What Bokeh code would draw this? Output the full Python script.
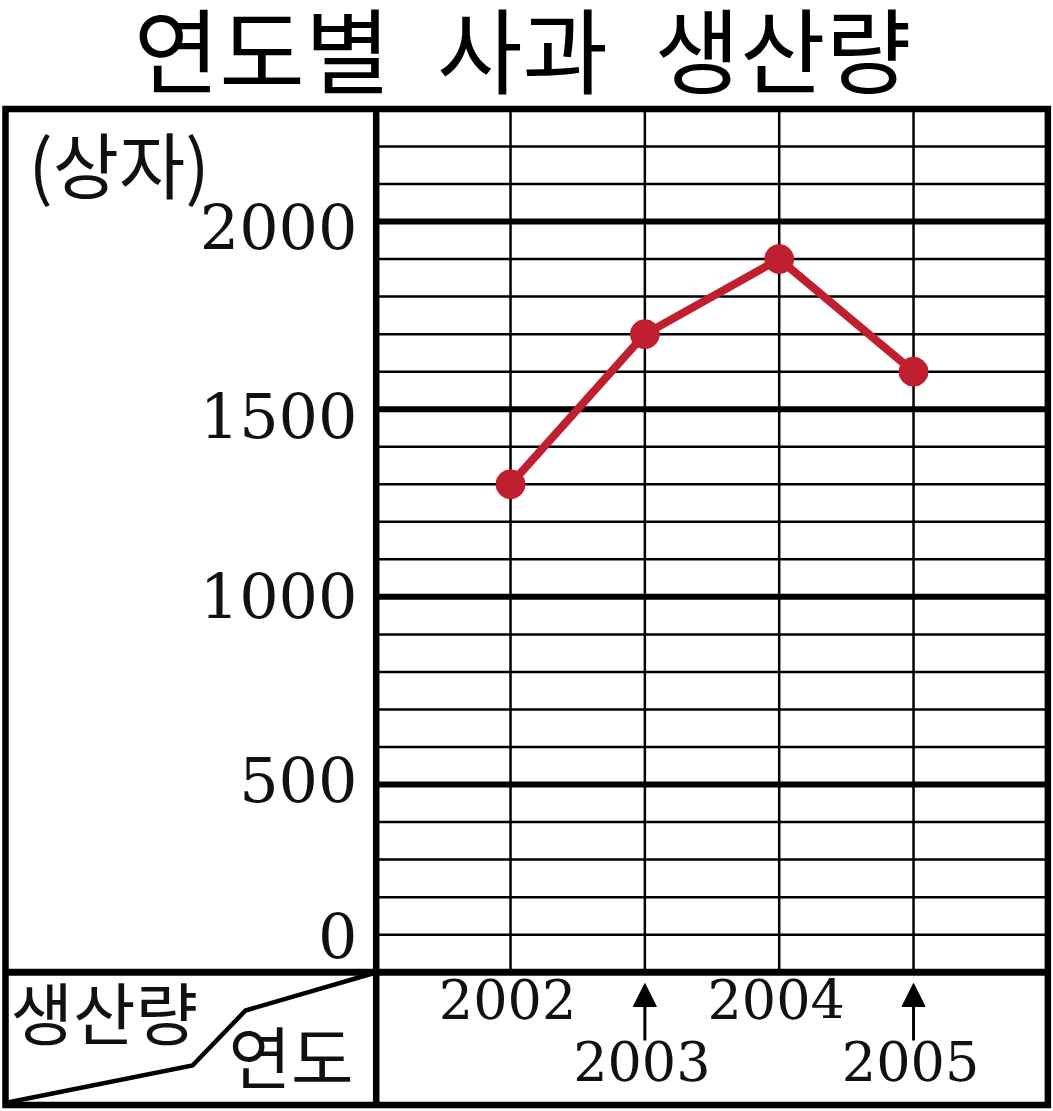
from bokeh.plotting import figure
from bokeh.models import Range1d, Arrow, NormalHead
from bokeh.core.properties import value
from bokeh.embed import file_html
from bokeh.resources import INLINE

# ---------------- data ----------------
years = [2002, 2003, 2004, 2005]
production = [1300, 1700, 1900, 1600]
year_labels = ["2002", "2003", "2004", "2005"]
y_ticks = [0, 500, 1000, 1500, 2000]
y_tick_labels = ["0", "500", "1000", "1500", "2000"]
minor_ticks = [v for v in range(100, 2300, 100) if v % 500 != 0]
title_text = "연도별\u2002사과\u2002생산량"
unit_text = "(상자)"
corner_row_text = "생산량"
corner_col_text = "연도"

# ---------------- geometry (page pixels -> data) ----------------
W, H = 1053, 1111
SX = 403.0 / 3.0          # px per year
SY = 563.0 / 1500.0       # px per unit
X_FIRST, X_LAST = 2001, 2006
Y_TOP = 2300
x_start = X_FIRST - 375.7 / SX
x_end = x_start + W / SX
y_start = 0 - (H - 971.7) / SY
y_end = y_start + H / SY


def px(page_x):
    return x_start + page_x / SX


def py(page_y):
    return y_end - page_y / SY


p = figure(width=W, height=H, x_range=Range1d(x_start, x_end),
           y_range=Range1d(y_start, y_end), output_backend="svg",
           toolbar_location=None, min_border=0, outline_line_color=None,
           x_axis_location=None, y_axis_location=None)
p.grid.visible = False
p.background_fill_color = "white"
p.border_fill_color = "white"

# grid
p.segment(x0=[X_FIRST] * len(minor_ticks), x1=[X_LAST] * len(minor_ticks),
          y0=minor_ticks, y1=minor_ticks, line_color="black", line_width=2.5)
major = [v for v in y_ticks if v > 0]
p.segment(x0=[X_FIRST] * len(major), x1=[X_LAST] * len(major),
          y0=major, y1=major, line_color="black", line_width=6)
p.segment(x0=years, x1=years, y0=[0] * len(years), y1=[Y_TOP] * len(years),
          line_color="black", line_width=2.5)

# frame
left_edge = px(5)
bottom_edge = py(1104.5)
p.quad(left=[left_edge], right=[X_LAST], top=[Y_TOP], bottom=[bottom_edge],
       fill_color=None, line_color="black", line_width=6.5, line_join="miter")
p.segment(x0=[X_FIRST], x1=[X_FIRST], y0=[bottom_edge], y1=[Y_TOP],
          line_color="black", line_width=6.5)
p.segment(x0=[left_edge], x1=[X_LAST], y0=[0], y1=[0],
          line_color="black", line_width=7)

# corner diagonal
p.line(x=[px(7), px(192), px(245), px(372)],
       y=[py(1102), py(1065), py(1010), py(973)],
       line_color="black", line_width=4.5, line_join="miter")

# data
red = "#C01F30"
p.line(x=years, y=production, line_color=red, line_width=8, line_join="round")
p.scatter(x=years, y=production, size=29, fill_color=red, line_color=red,
          marker="circle")

# y labels
label_offsets = [-37, -5, -1, 6, 5]
p.text(x=[px(357)] * len(y_ticks), y=y_ticks, text=y_tick_labels,
       y_offset=label_offsets, text_align="right", text_baseline="middle",
       text_font=value("DejaVu Serif"), text_font_size="62px",
       text_color="#111111")

# year labels (staggered)
row_y = [py(998), py(1060)]
p.text(x=years, y=[row_y[i % 2] for i in range(len(years))], text=year_labels,
       x_offset=-3, text_align="center", text_baseline="middle",
       text_font=value("DejaVu Serif"), text_font_size="54px",
       text_color="#111111")
for i, yr in enumerate(years):
    if i % 2 == 1:
        p.add_layout(Arrow(x_start=yr, y_start=py(1040), x_end=yr, y_end=py(983),
                           line_color="black", line_width=3,
                           end=NormalHead(size=23, fill_color="black",
                                          line_color="black", line_width=1)))

# Korean texts
cjk = value("Noto Sans CJK KR")
p.text(x=[px(522)], y=[py(46)], text=[title_text], text_align="center",
       text_baseline="alphabetic", text_font=cjk, text_font_size="93px",
       text_color="black")
p.text(x=[px(28)], y=[py(161)], text=[unit_text], text_align="left",
       text_baseline="middle", text_font=cjk, text_font_size="72px",
       text_color="#111111")
p.text(x=[px(10)], y=[py(1010)], text=[corner_row_text], text_align="left",
       text_baseline="middle", text_font=cjk, text_font_size="68px",
       text_color="#111111")
p.text(x=[px(228)], y=[py(1054)], text=[corner_col_text], text_align="left",
       text_baseline="middle", text_font=cjk, text_font_size="68px",
       text_color="#111111")

open("out.html", "w").write(file_html(p, INLINE))
